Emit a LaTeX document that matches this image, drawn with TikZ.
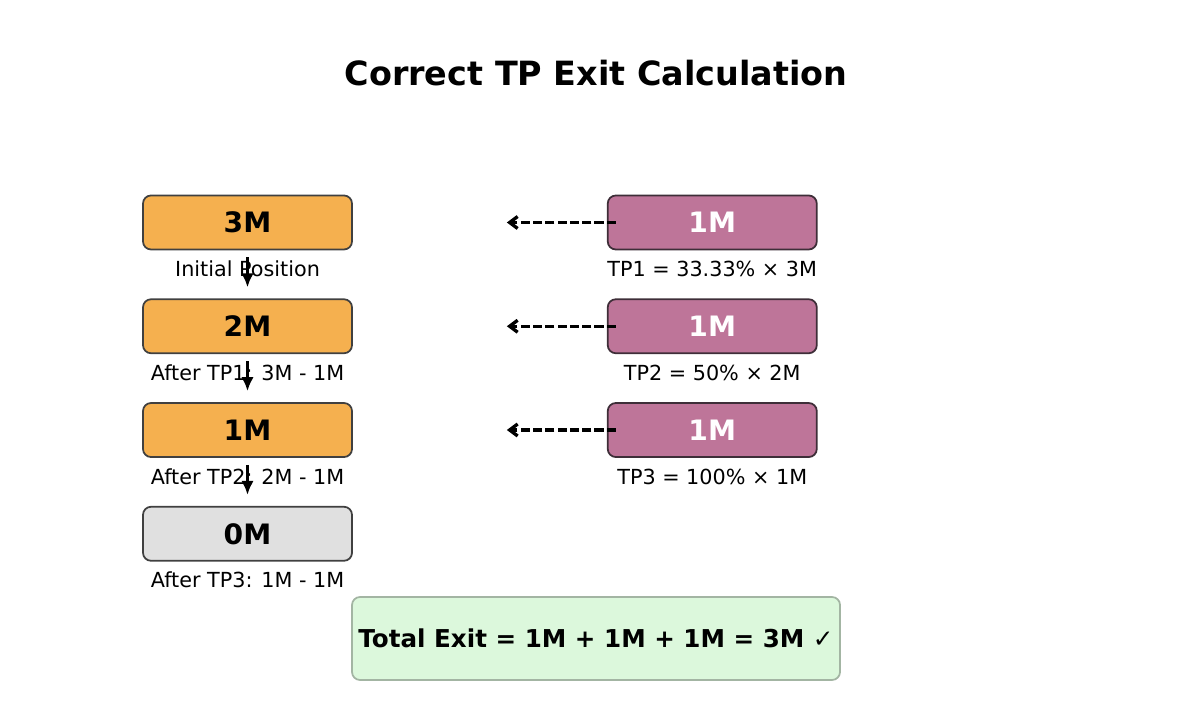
\documentclass[tikz,border=0pt]{standalone}
\usepackage{fontspec}
\setmainfont{DejaVu Sans}
\usepackage{xcolor}
\usetikzlibrary{arrows.meta,positioning}
\definecolor{posfill}{HTML}{F5B04F}
\definecolor{tpfill}{HTML}{BE7599}
\definecolor{zerofill}{HTML}{E0E0E0}
\definecolor{totfill}{HTML}{DCF8DC}
\definecolor{totline}{HTML}{A3B5A3}
\definecolor{tpline}{HTML}{3E2E38}

\begin{document}
\begin{tikzpicture}[
    node distance=0.96cm and 5.08cm,
    posbox/.style={draw=black!75, line width=1pt, rounded corners=0.16cm,
                minimum height=1.08cm, minimum width=4.18cm,
                font=\fontsize{16}{19}\selectfont\bfseries},
    tpbox/.style={posbox, draw=tpline, fill=tpfill, text=white},
    lbl/.style={inner sep=0pt, text height=1.6ex, text depth=0pt,
                font=\fontsize{11.8}{14}\selectfont},
    down/.style={-{Latex[length=2.8mm,width=2.5mm]}, line width=1.8pt,
                shorten <=0.14cm, shorten >=0.22cm},
    take/.style={-{Straight Barb[length=1.6mm,width=2.4mm]}, line width=1.9pt,
                dash pattern=on 5.2pt off 1.8pt}
]
\useasboundingbox (0,0) rectangle (23.84,14.46);
\node[font=\fontsize{19}{23}\selectfont\bfseries] (title) at (11.92,13.0)
    {Correct TP Exit Calculation};

\node[posbox, fill=posfill] (b1) at (4.95,10.01) {3M};
\node[posbox, fill=posfill, below=of b1] (b2) {2M};
\node[posbox, fill=posfill, below=of b2] (b3) {1M};
\node[posbox, fill=zerofill, below=of b3] (b4) {0M};

\node[lbl, below=0.21cm of b1] (l1) {Initial Position};
\node[lbl, below=0.21cm of b2] (l2) {After TP1: 3M - 1M};
\node[lbl, below=0.21cm of b3] (l3) {After TP2: 2M - 1M};
\node[lbl, below=0.21cm of b4] (l4) {After TP3: 1M - 1M};

\node[tpbox, right=of b1] (p1) {1M};
\node[tpbox, right=of b2] (p2) {1M};
\node[tpbox, right=of b3] (p3) {1M};

\node[lbl, below=0.21cm of p1] (t1) {TP1 = 33.33\% × 3M};
\node[lbl, below=0.21cm of p2] (t2) {TP2 = 50\% × 2M};
\node[lbl, below=0.21cm of p3] (t3) {TP3 = 100\% × 1M};

\coordinate[left=2cm of p1] (e1);
\coordinate[left=2cm of p2] (e2);
\coordinate[left=2cm of p3] (e3);

\draw[down] (b1) -- (b2);
\draw[down] (b2) -- (b3);
\draw[down] (b3) -- (b4);

\draw[take] ([xshift=0.18cm]p1.west) -- (e1);
\draw[take] ([xshift=0.18cm]p2.west) -- (e2);
\draw[take] ([xshift=0.18cm]p3.west) -- (e3);

\node[draw=totline, fill=totfill, line width=1pt, rounded corners=0.16cm,
      minimum width=9.76cm, minimum height=1.66cm,
      font=\fontsize{14}{17}\selectfont\bfseries] (total) at (11.92,1.69)
    {Total Exit = 1M + 1M + 1M = 3M {\mdseries ✓}};
\end{tikzpicture}
\end{document}
